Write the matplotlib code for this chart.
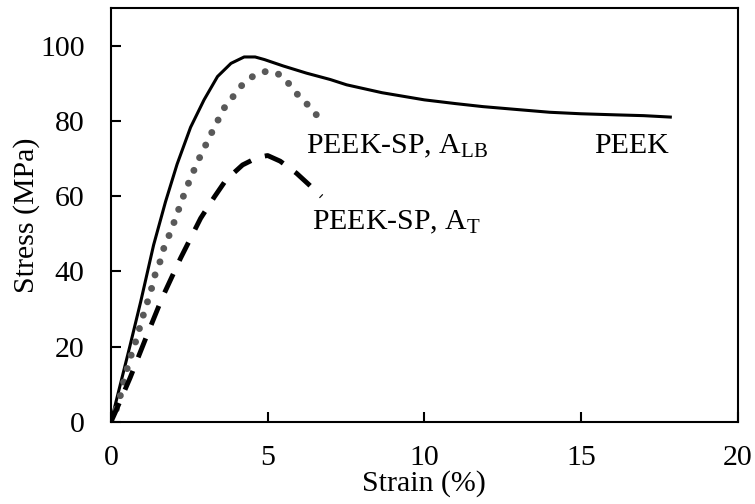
import matplotlib
matplotlib.use("Agg")
import matplotlib.pyplot as plt

plt.rcParams['font.family'] = 'Liberation Serif'
plt.rcParams['mathtext.fontset'] = 'custom'
plt.rcParams['mathtext.rm'] = 'Liberation Serif'
plt.rcParams['mathtext.it'] = 'Liberation Serif:italic'

FS = 21.5

# PEEK (solid)
peek_x = [0, 0.3, 0.6, 0.95, 1.36, 1.74, 2.11, 2.54, 2.97, 3.4, 3.83, 4.25, 4.6,
          4.9, 5.5, 6.24, 7.0, 7.52, 8.65, 10.0, 11.0, 11.87, 13.0, 14.0, 15.0,
          16.15, 17.0, 17.9]
peek_y = [0, 10, 20, 32, 47, 58.5, 68.5, 78.3, 85.6, 91.8, 95.3, 97.0, 97.0,
          96.3, 94.6, 92.7, 91.0, 89.6, 87.5, 85.6, 84.6, 83.8, 83.0, 82.3, 81.9,
          81.6, 81.4, 81.0]

# PEEK-SP, A_LB (dotted)
alb_x = [0, 0.24, 0.34, 0.58, 0.74, 0.88, 1.01, 1.15, 1.29, 1.41, 1.58, 1.71, 1.9,
         2.38, 2.75, 3.18, 3.61, 4.2, 4.58, 5.0, 5.43, 5.76, 6.05, 6.4, 6.67]
alb_y = [0, 4.8, 8.5, 16.2, 20, 24, 27.8, 31.5, 35.3, 39.2, 42.9, 46.9, 50.4,
         61.6, 68.9, 76.3, 83.4, 89.7, 92.2, 93.3, 92.2, 89.1, 86.0, 83.4, 80.3]

# PEEK-SP, A_T (dashed)
at_x = [0, 0.13, 0.61, 1.09, 1.63, 2.22, 2.86, 3.3, 3.67, 4.2, 4.68, 5.0, 5.4,
        5.92, 6.3, 6.72]
at_y = [0, 2.4, 11.7, 21.8, 32.9, 43.5, 54.1, 59.8, 64.3, 68.3, 70.3, 70.8, 69.3,
        66.1, 63.2, 59.9]

fig, ax = plt.subplots(figsize=(7.55, 5.04), dpi=100)
fig.subplots_adjust(left=0.147, right=0.977, bottom=0.163, top=0.984)

ax.plot(peek_x, peek_y, color='black', lw=2.2, solid_capstyle='butt')
ax.plot(alb_x, alb_y, color='#595959', lw=5.0, linestyle=(0, (0.01, 2.0)),
        dash_capstyle='round')
ax.plot(at_x, at_y, color='black', lw=3.5, linestyle=(0, (4.2, 3.0)),
        dash_capstyle='butt')

ax.text(6.24, 73.3, r'PEEK-SP, A$_\mathrm{LB}$', fontsize=FS, va='center', ha='left')
ax.text(15.43, 73.3, 'PEEK', fontsize=FS, va='center', ha='left')
ax.text(6.4, 53.0, r'PEEK-SP, A$_\mathrm{T}$', fontsize=FS, va='center', ha='left')

ax.set_xlim(0, 20)
ax.set_ylim(0, 110)
ax.set_xticks([0, 5, 10, 15, 20])
ax.set_yticks([0, 20, 40, 60, 80, 100])
ax.tick_params(axis='both', direction='in', length=7, width=1.5, labelsize=FS)
ax.tick_params(axis='x', pad=17)
ax.tick_params(axis='y', pad=19)
for s in ax.spines.values():
    s.set_linewidth(1.5)

ax.set_xlabel('Strain (%)', fontsize=FS, labelpad=-1)
ax.set_ylabel('Stress (MPa)', fontsize=FS, labelpad=0)

fig.savefig('out.png', dpi=100)
